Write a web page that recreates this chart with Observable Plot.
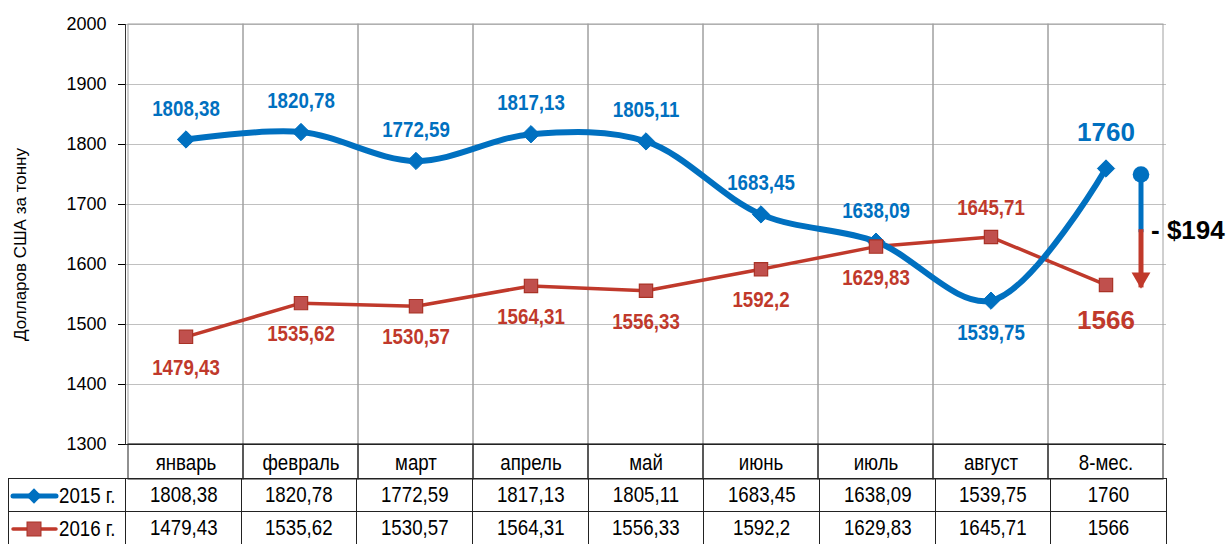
<!DOCTYPE html>
<html><head><meta charset="utf-8">
<script src="https://cdn.jsdelivr.net/npm/d3@7"></script>
<script src="https://cdn.jsdelivr.net/npm/@observablehq/plot@0.6"></script>
<style>
body{margin:0;background:#fff;}
#wrap{position:relative;width:1226px;height:544px;overflow:hidden;background:#fff;}
#wrap svg.chart{position:absolute;left:0;top:0;}
#tbl{position:absolute;left:8px;top:478px;border-collapse:collapse;table-layout:fixed;width:1158px;
 font-family:"Liberation Sans",Arial,sans-serif;font-size:22px;color:#000;}
#tbl td{border:1px solid #222;height:32px;padding:0;text-align:center;white-space:nowrap;overflow:hidden;}
#tbl td span.c{display:inline-block;transform:scaleX(0.85);}
#tbl td.leg{text-align:left;}
#tbl td.leg svg{vertical-align:middle;}
#tbl td.leg span.c{vertical-align:middle;transform-origin:0 50%;}
</style></head><body><div id="wrap"></div>
<script>
const months = ["январь","февраль","март","апрель","май","июнь","июль","август","8-мес."];
const series = ["2015 г.","2016 г."];
const values2015 = [1808.38,1820.78,1772.59,1817.13,1805.11,1683.45,1638.09,1539.75,1760];
const values2016 = [1479.43,1535.62,1530.57,1564.31,1556.33,1592.2,1629.83,1645.71,1566];
const yTicks = [1300,1400,1500,1600,1700,1800,1900,2000];
const yLabel = "Долларов США за тонну";

const narrow = '"Liberation Sans","Arial Narrow",sans-serif';
const regular = '"Liberation Sans",Arial,sans-serif';
const blue = "#0070C0", red = "#C0392B", redFill = "#C0504D", redStroke = "#A93226";
const fmt = v => String(v).replace(".", ",");
const n = months.length;
const rows = months.map((m, i) => ({month: m, a: values2015[i], b: values2016[i], i}));
const body = rows.filter(d => d.i < n - 1);
const lastRow = rows.filter(d => d.i === n - 1);
const yMin = d3.min(yTicks), yMax = d3.max(yTicks);
const lbl = {fontSize: 22, fontWeight: "bold", fontFamily: narrow};

const chart = Plot.plot({
  width: 1226, height: 479,
  marginLeft: 125, marginRight: 60, marginTop: 24, marginBottom: 35,
  style: {fontFamily: regular, fontSize: "18px", background: "transparent", overflow: "visible"},
  x: {domain: months, padding: 0},
  y: {domain: [yMin, yMax]},
  marks: [
    Plot.ruleY(yTicks.filter(t => t > yMin), {stroke: "#c0c0c0", strokeWidth: 1}),
    Plot.barY(rows, {x: "month", y1: () => yMin, y2: () => yMax, fill: "none", stroke: "#a0a0a0"}),
    Plot.barY(rows, {x: "month", y1: () => yMin, y2: () => yMin, insetBottom: -35, fill: "none", stroke: "#222"}),
    Plot.frame({anchor: "left", stroke: "#333"}),
    Plot.ruleY([yMin], {stroke: "#222"}),
    Plot.axisY({ticks: yTicks, tickSize: 7, tickPadding: 12, fontSize: 18, label: null, tickFormat: d => String(d)}),
    Plot.text([yLabel], {frameAnchor: "left", textAnchor: "middle", rotate: -90, dx: -105, dy: 10, fontSize: 17, fill: "#000"}),
    Plot.axisX({tickSize: 0, tickPadding: 10, fontSize: 22, fontFamily: narrow, label: null}),
    // 2016 line
    Plot.line(rows, {x: "month", y: "b", stroke: red, strokeWidth: 3.5}),
    // 2015 smoothed line
    Plot.line(rows, {x: "month", y: "a", stroke: blue, strokeWidth: 6, curve: "catmull-rom"}),
    Plot.dot(rows, {x: "month", y: "a", symbol: "diamond2", r: 7.8, fill: blue, stroke: blue, strokeWidth: 1}),
    Plot.dot(rows, {x: "month", y: "b", symbol: "square", r: 7.5, fill: redFill, stroke: redStroke, strokeWidth: 1.2}),
    // data labels 2015
    Plot.text(body.filter(d => d.a >= d.b), {x: "month", y: "a", text: d => fmt(d.a), dy: -31, fill: blue, ...lbl}),
    Plot.text(body.filter(d => d.a < d.b), {x: "month", y: "a", text: d => fmt(d.a), dy: 32, fill: blue, ...lbl}),
    // data labels 2016
    Plot.text(body.filter(d => d.b <= d.a), {x: "month", y: "b", text: d => fmt(d.b), dy: 31, fill: red, ...lbl}),
    Plot.text(body.filter(d => d.b > d.a), {x: "month", y: "b", text: d => fmt(d.b), dy: -29, fill: red, ...lbl}),
    // 8-month labels
    Plot.text(lastRow, {x: "month", y: "a", text: d => fmt(d.a), dy: -36, fill: blue, fontSize: 26, fontWeight: "bold"}),
    Plot.text(lastRow, {x: "month", y: "b", text: d => fmt(d.b), dy: 36, fill: red, fontSize: 26, fontWeight: "bold"}),
    // difference arrow
    Plot.ruleX(lastRow, {x: "month", y1: "a", y2: d => (d.a + d.b) / 2, dx: 35, dy: 6, stroke: blue, strokeWidth: 5}),
    Plot.ruleX(lastRow, {x: "month", y1: d => (d.a + d.b) / 2, y2: "b", dx: 35, dy: 3, stroke: red, strokeWidth: 5}),
    Plot.dot(lastRow, {x: "month", y: "a", dx: 35, dy: 6, r: 8.3, fill: blue}),
    Plot.dot(lastRow, {x: "month", y: "b", dx: 35, dy: -7, symbol: "triangle", rotate: 180, r: 7, fill: red}),
    Plot.text(lastRow, {x: "month", y: d => (d.a + d.b) / 2, text: d => `- $${d3.format("d")(d.a - d.b)}`,
      dx: 45, dy: 4, textAnchor: "start", fill: "#000", fontSize: 26, fontWeight: "bold"})
  ]
});
chart.classList.add("chart");
const wrap = document.getElementById("wrap");
wrap.appendChild(chart);

// condense the Arial-Narrow-styled texts horizontally (about their anchor point)
d3.select(chart).selectAll('[font-family*="Narrow"] text').each(function () {
  const t = d3.select(this);
  const tr = t.attr("transform") || "";
  t.attr("transform", `${tr} scale(0.85,1)`);
});

// data table below the x axis
const table = d3.select(wrap).append("table").attr("id", "tbl");
const cg = table.append("colgroup");
cg.append("col").style("width", "117px");
months.forEach(() => cg.append("col").style("width", (1041 / n) + "px"));
const seriesVals = [values2015, values2016];
series.forEach((s, si) => {
  const tr = table.append("tr");
  const td = tr.append("td").attr("class", "leg");
  const sv = td.append("svg").attr("width", 50).attr("height", 20);
  sv.append("line").attr("x1", 4).attr("x2", 47).attr("y1", 10).attr("y2", 10)
    .attr("stroke", si === 0 ? blue : red).attr("stroke-width", si === 0 ? 5 : 3.5).attr("stroke-linecap", "round");
  if (si === 0) {
    sv.append("path").attr("d", d3.symbol(d3.symbolDiamond2, 150)()).attr("transform", "translate(25,10)").attr("fill", blue);
  } else {
    sv.append("rect").attr("x", 18).attr("y", 3).attr("width", 14).attr("height", 14)
      .attr("fill", redFill).attr("stroke", redStroke);
  }
  td.append("span").attr("class", "c").text(s);
  seriesVals[si].forEach(v => tr.append("td").append("span").attr("class", "c").text(fmt(v)));
});
</script></body></html>
